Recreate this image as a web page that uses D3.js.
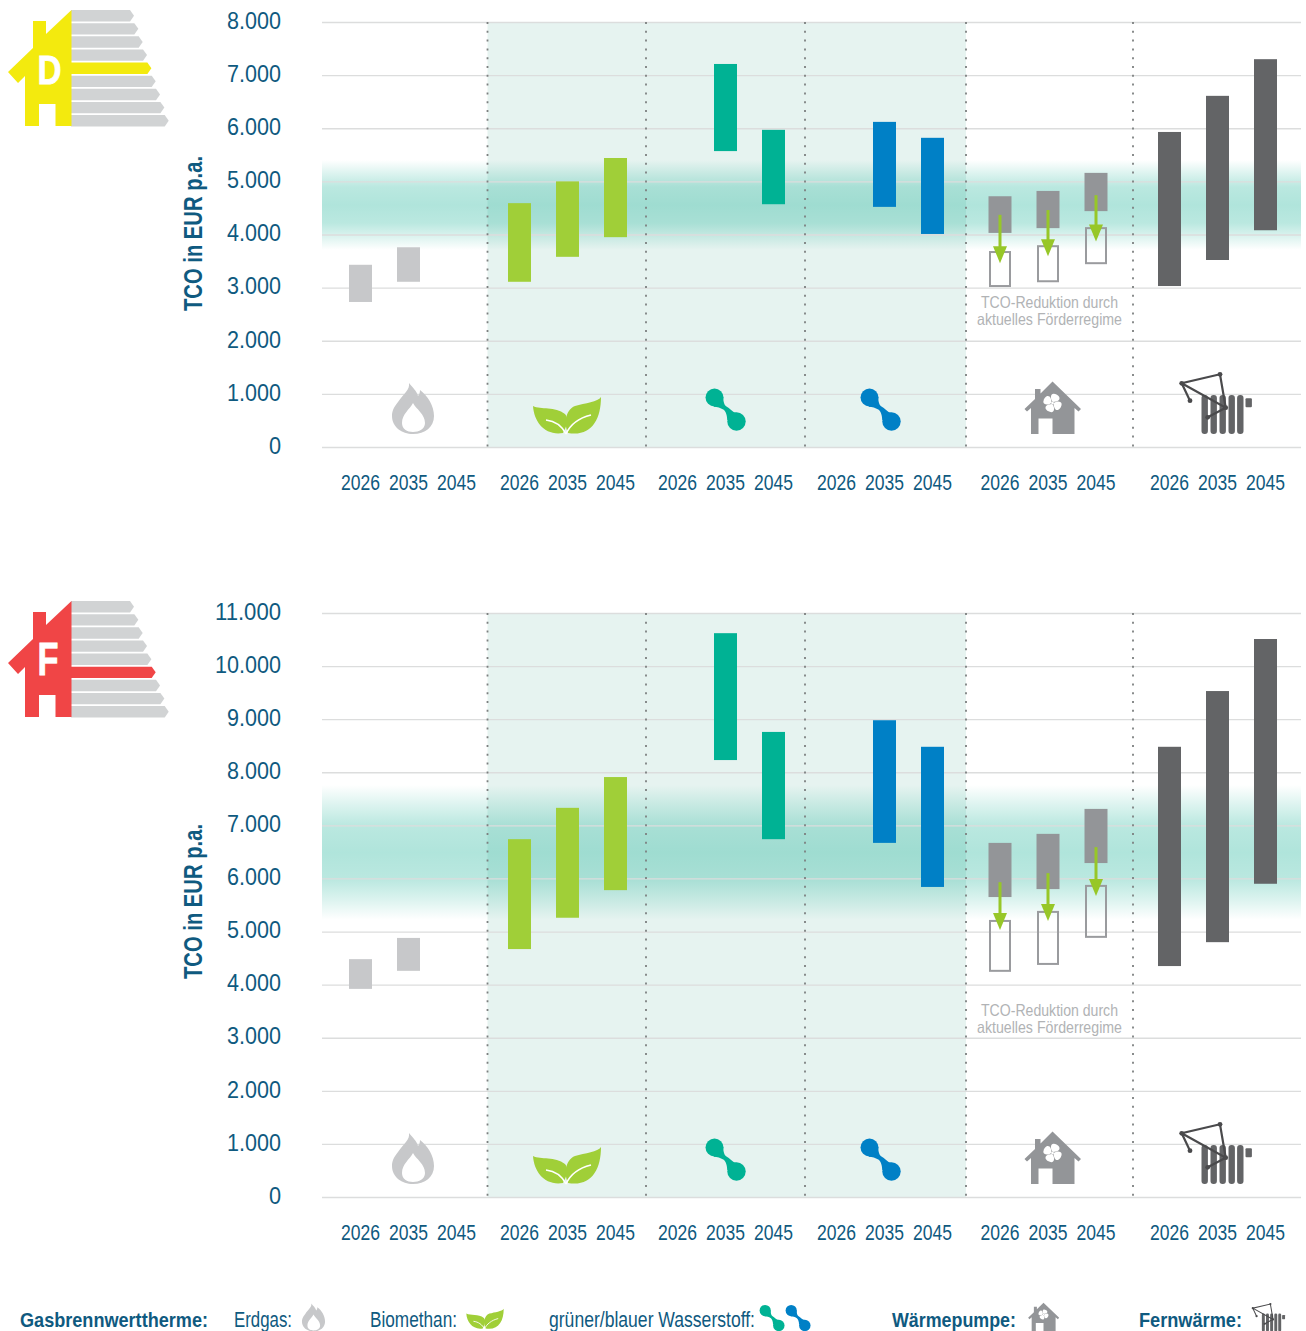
<!DOCTYPE html>
<html>
<head>
<meta charset="utf-8">
<script type="text/javascript" src="https://d3js.org/d3.v7.min.js"></script>
<title>TCO je Heizungstechnologie</title>
<style>
html, body { margin:0; padding:0; background:#fff; }
svg { display:block; }
text { font-family:"Liberation Sans Narrow","Liberation Sans",sans-serif; }
</style>
</head>
<body>
<div id="chart"></div>
<script type="text/javascript">
// ---- data (EUR p.a., [low, high])
var years = ["2026", "2035", "2045"];
var groups = ["erdgas", "biomethan", "gruen", "blau", "waermepumpe", "fernwaerme"];

var d_erdgas     = [[2730, 3430], [3110, 3760], null];
var d_biomethan  = [[3110, 4590], [3580, 5000], [3950, 5440]];
var d_gruen      = [null, [5570, 7210], [4570, 5970]];
var d_blau       = [null, [4520, 6120], [4010, 5820]];
var d_wp         = [[4030, 4720], [4120, 4820], [4440, 5160]];
var d_fern       = [[3030, 5930], [3520, 6610], [4080, 7300]];
var d_wpFoerder  = [[3030, 3670], [3120, 3780], [3460, 4120]];
var d_arrowFrom  = [4370, 4460, 4740];
var d_arrowTo    = [3460, 3590, 3870];
var d_band       = [3710, 5400];
var d_ticks      = [0, 1000, 2000, 3000, 4000, 5000, 6000, 7000, 8000];

var f_erdgas     = [[3920, 4480], [4260, 4880], null];
var f_biomethan  = [[4670, 6740], [5260, 7330], [5780, 7910]];
var f_gruen      = [null, [8230, 10620], [6740, 8760]];
var f_blau       = [null, [6670, 8980], [5840, 8480]];
var f_wp         = [[5650, 6670], [5800, 6840], [6290, 7310]];
var f_fern       = [[4350, 8480], [4800, 9530], [5900, 10510]];
var f_wpFoerder  = [[4260, 5200], [4390, 5370], [4900, 5860]];
var f_arrowFrom  = [5930, 6100, 6590];
var f_arrowTo    = [5030, 5200, 5670];
var f_band       = [5220, 7760];
var f_ticks      = [0, 1000, 2000, 3000, 4000, 5000, 6000, 7000, 8000, 9000, 10000, 11000];

var axisTitle = "TCO in EUR p.a.";
var note = ["TCO-Reduktion durch", "aktuelles Förderregime"];

// ---- layout
var W = 1306, H = 1331;
var left = 322, right = 1301;
var groupCenters = [408.5, 567.5, 725.5, 884.5, 1048, 1217.5];
var dividers = [487.5, 646, 805, 966, 1133];
var barW = 23;

var colors = {
  erdgas: "#c7c8ca", biomethan: "#a0cf38", gruen: "#00b294", blau: "#0080c6",
  waermepumpe: "#939598", fernwaerme: "#636466"
};
var ink = "#0f5a80";

var svg = d3.select("#chart").append("svg").attr("width", W).attr("height", H);
var defs = svg.append("defs");

var gx = d3.scaleOrdinal(groups, groupCenters);
var yearOff = d3.scalePoint(years, [-48, 48]);
var fmt = function(v) { return d3.format(",")(v).replace(/,/g, "."); };

// squeeze a text to a measured width from the reference
function fit(sel, w) {
  sel.attr("textLength", w).attr("lengthAdjust", "spacingAndGlyphs");
  return sel;
}

// ---- icons, each drawn around its own origin
function flame(g, c) {
  g.append("path").attr("fill", c || colors.erdgas)
   .attr("d", "M-4,-51 C-3,-44 -9,-41 -15,-32 C-20,-26 -21,-22 -21,-18 C-21,-7 -11,0 0,0 C12,0 21,-7 21,-18 C21,-28 15,-38 7,-44 C7,-41 6,-39 5,-38 C4,-43 -1,-47 -4,-51Z");
  g.append("path").attr("fill", "#fff")
   .attr("d", "M0,-31 C-3,-25 -11,-20 -11,-11 C-11,-5 -6,-2 0,-2 C6,-2 12,-5 12,-11 C12,-20 3,-25 0,-31Z");
}
function leaf(g) {
  g.append("path").attr("fill", colors.biomethan)
   .attr("d", "M-34,-28 C-26,-24 -12,-28 -2,-20 C2,-16 0,-8 -4,-1 C-22,2 -33,-12 -34,-28Z");
  g.append("path").attr("fill", colors.biomethan)
   .attr("d", "M34,-37 C31,-32 18,-31 8,-28 C-2,-24 -3,-10 1,-1 C24,3 34,-14 34,-37Z");
  g.append("path").attr("fill", "none").attr("stroke", "#fff").attr("stroke-width", 1.6)
   .attr("d", "M-21,-14 C-12,-13 -5,-8 -1,0 M24,-19 C12,-16 3,-9 -1,0");
}
function hydrogen(g, c) {
  g.append("path").attr("fill", c)
   .attr("d", "M-2.3,-12.7 C-2.2,-7 -1,-4 1,-3 C4,-1.5 7,3 11,3.3 L1.7,10.7 C1.8,6 0,1 -2.3,0 C-5,-1.5 -8,-2.7 -12,-2.7Z");
  g.append("circle").attr("cx", -11).attr("cy", -12).attr("r", 9).attr("fill", c);
  g.append("circle").attr("cx", 11).attr("cy", 12).attr("r", 9.2).attr("fill", c);
}
function heatPump(g) {
  g.append("path").attr("fill", colors.waermepumpe)
   .attr("d", "M0,-52.5 L28.5,-25 L26,-22.5 L22,-26 L22,0 L0,0 L0,-15.5 L-14,-15.5 L-14,0 L-21.5,0 L-21.5,-26 L-25.5,-22.5 L-28,-25 L-17.5,-35 L-17.5,-45 L-12,-45 L-12,-40.5Z");
  var fan = g.append("g").attr("transform", "translate(0,-31)");
  [20, 110, 200, 290].forEach(function(a) {
    fan.append("path").attr("fill", "#fff").attr("transform", "rotate(" + a + ")")
       .attr("d", "M0,-1 C-4,-3 -5,-8 -2,-9 C2,-10 6,-8 5,-5 C4,-3 2,-2 0,-1Z");
  });
  fan.append("circle").attr("r", 1.3).attr("fill", "#fff");
}
function district(g) {
  [0, 9, 18, 27, 35.6].forEach(function(x) {
    g.append("rect").attr("x", x - 15.5).attr("y", -39).attr("width", 6.4).attr("height", 39)
     .attr("rx", 3).attr("fill", colors.fernwaerme);
  });
  g.append("rect").attr("x", 28.5).attr("y", -35.7).attr("width", 6.4).attr("height", 9)
   .attr("rx", 1).attr("fill", colors.fernwaerme);
  var p = [[-27, -33.3], [-35.3, -50.7], [3, -59.7], [8.7, -26.3], [-9.3, -16.7]];
  g.append("path").attr("fill", "none").attr("stroke", "#4a4a4c").attr("stroke-width", 2.2)
   .attr("d", d3.line()(p.slice(0, 4)) + "L" + p[1] + "M" + p[3] + "L" + p[4]);
  p.forEach(function(q) {
    g.append("circle").attr("cx", q[0]).attr("cy", q[1]).attr("r", 2.4).attr("fill", "#4a4a4c");
  });
}

// energy class house with the row arrows
function energyLabel(dy, letter, active, c, fs, lw) {
  var g = svg.append("g").attr("transform", "translate(0," + dy + ")");
  var rows = d3.range(9);
  var rowY = d3.scaleLinear([0, 8], [10, 115]);
  var rowEnd = d3.scaleLinear([0, 8], [134, 168.7]);
  rows.forEach(function(i) {
    var y0 = rowY(i), x1 = rowEnd(i), h = 11.4;
    g.append("path").attr("fill", i === active ? c : "#d1d3d4")
     .attr("d", "M71," + y0 + "L" + (x1 - 4) + "," + y0 + "L" + x1 + "," + (y0 + h / 2) + "L" + (x1 - 4) + "," + (y0 + h) + "L71," + (y0 + h) + "Z");
  });
  g.append("path").attr("fill", c)
   .attr("d", "M71.5,10 L46,34 L46,21 L33,21 L33,48 L8,72 L18,83 L25,76 L25,126 L39,126 L39,104 L55.5,104 L55.5,126 L71.5,126Z");
  fit(g.append("text").attr("x", 37.5).attr("y", 84)
     .attr("font-size", fs).attr("font-weight", 700).attr("fill", "#fff")
     .attr("stroke", "#fff").attr("stroke-width", 0.8).text(letter), lw);
}

// ---- one panel
function panel(o) {
  var y = d3.scaleLinear([0, o.max], [o.y0, o.y1]);
  var g = svg.append("g");

  // shaded span for the gas based options
  g.append("rect").attr("x", dividers[0]).attr("y", y(o.max))
   .attr("width", dividers[3] - dividers[0]).attr("height", y(0) - y(o.max)).attr("fill", "#e6f3f0");

  // corridor band
  var gid = "band" + o.id;
  var lg = defs.append("linearGradient").attr("id", gid).attr("x1", 0).attr("x2", 0).attr("y1", 0).attr("y2", 1);
  [[0, 0], [0.14, 0.13], [0.3, 0.27], [0.5, 0.31], [0.7, 0.27], [0.86, 0.13], [1, 0]].forEach(function(s) {
    lg.append("stop").attr("offset", s[0]).attr("stop-color", "#00aa8c").attr("stop-opacity", s[1]);
  });
  g.append("rect").attr("x", left).attr("width", right - left)
   .attr("y", y(o.band[1])).attr("height", y(o.band[0]) - y(o.band[1])).attr("fill", "url(#" + gid + ")");

  // y axis + grid
  var axis = g.append("g").attr("transform", "translate(" + left + ",0)")
    .call(d3.axisLeft(y).tickValues(o.ticks).tickFormat(fmt)
            .tickSizeInner(-(right - left)).tickSizeOuter(0).tickPadding(41));
  axis.select(".domain").remove();
  axis.selectAll("line").attr("stroke", "#dcdddd").attr("stroke-width", 1.3);
  axis.selectAll("text").attr("fill", ink).attr("font-size", 24).attr("font-family", null)
      .attr("dy", "0.26em")
      .each(function(v) {
        var s = fmt(v);
        fit(d3.select(this), (s.length > 1 ? (s.length - 1) * 12.1 + 5.5 : 12.1));
      });

  fit(g.append("text").attr("transform", "translate(202," + o.titleY + ") rotate(-90)")
      .attr("font-size", 26).attr("font-weight", 700).attr("fill", ink).text(axisTitle), 155);

  // dotted dividers
  g.selectAll(".div").data(dividers).enter().append("line")
   .attr("x1", function(d) { return d; }).attr("x2", function(d) { return d; })
   .attr("y1", y(o.max)).attr("y2", y(0))
   .attr("stroke", "#7d8080").attr("stroke-width", 1.8).attr("stroke-dasharray", "2 6.8");

  // bars
  var series = [["erdgas", o.erdgas], ["biomethan", o.biomethan], ["gruen", o.gruen],
                ["blau", o.blau], ["waermepumpe", o.wp], ["fernwaerme", o.fern]];
  series.forEach(function(s) {
    g.selectAll(".b" + s[0]).data(s[1].map(function(r, i) { return r ? { r: r, yr: years[i] } : null; }).filter(Boolean))
     .enter().append("rect")
     .attr("x", function(d) { return gx(s[0]) + yearOff(d.yr) - barW / 2; })
     .attr("width", barW)
     .attr("y", function(d) { return y(d.r[1]); })
     .attr("height", function(d) { return y(d.r[0]) - y(d.r[1]); })
     .attr("fill", colors[s[0]]);
  });

  // outlined bars: heat pump after subsidies
  g.selectAll(".outl").data(o.foerder).enter().append("rect")
   .attr("x", function(d, i) { return gx("waermepumpe") + yearOff(years[i]) - 10; })
   .attr("width", 20)
   .attr("y", function(d) { return y(d[1]); })
   .attr("height", function(d) { return y(d[0]) - y(d[1]); })
   .attr("fill", "none").attr("stroke", "#9a9b9e").attr("stroke-width", 2);

  // arrows
  years.forEach(function(yr, i) {
    var x = gx("waermepumpe") + yearOff(yr), a = y(o.from[i]), b = y(o.to[i]);
    g.append("line").attr("x1", x).attr("x2", x).attr("y1", a).attr("y2", b - 8)
     .attr("stroke", "#97c728").attr("stroke-width", 3);
    g.append("path").attr("fill", "#97c728")
     .attr("d", "M" + (x - 7) + "," + (b - 17) + "L" + (x + 7) + "," + (b - 17) + "L" + x + "," + b + "Z");
  });

  // note below the subsidy bars
  var nw = [137, 145];
  note.forEach(function(t, i) {
    fit(g.append("text").attr("x", 1049.5).attr("y", o.noteY + i * 17).attr("text-anchor", "middle")
       .attr("font-size", 16.5).attr("fill", "#b1b3b5").text(t), nw[i]);
  });

  // technology icons
  var base = y(0);
  function at(x, yy, s) { return g.append("g").attr("transform", "translate(" + x + "," + yy + ")" + (s ? " scale(" + s + ")" : "")); }
  flame(at(413, o.iconY));
  leaf(at(567, o.iconY));
  hydrogen(at(725.5, o.iconY - 24.5), colors.gruen);
  hydrogen(at(880.5, o.iconY - 24.5), colors.blau);
  heatPump(at(1052.5, o.iconY));
  district(at(1217, o.iconY));

  // year labels
  groups.forEach(function(gr) {
    years.forEach(function(yr) {
      fit(g.append("text").attr("x", gx(gr) + yearOff(yr)).attr("y", base + 43)
         .attr("text-anchor", "middle").attr("font-size", 21.5).attr("fill", ink).text(yr), 39);
    });
  });
}

energyLabel(0, "D", 4, "#f3ea0e", 40, 24);
energyLabel(591, "F", 5, "#f04546", 46, 21);

panel({ id: "D", max: 8000, y0: 447, y1: 22, ticks: d_ticks, erdgas: d_erdgas, biomethan: d_biomethan,
        gruen: d_gruen, blau: d_blau, wp: d_wp, fern: d_fern, foerder: d_wpFoerder,
        from: d_arrowFrom, to: d_arrowTo, band: d_band, titleY: 311, noteY: 308, iconY: 434 });
panel({ id: "F", max: 11000, y0: 1197, y1: 613, ticks: f_ticks, erdgas: f_erdgas, biomethan: f_biomethan,
        gruen: f_gruen, blau: f_blau, wp: f_wp, fern: f_fern, foerder: f_wpFoerder,
        from: f_arrowFrom, to: f_arrowTo, band: f_band, titleY: 979, noteY: 1016, iconY: 1184 });

// ---- legend
var legendText = [
  ["Gasbrennwerttherme:", 20, 188, true],
  ["Erdgas:", 234, 58, false],
  ["Biomethan:", 370, 87, false],
  ["grüner/blauer Wasserstoff:", 549, 206, false],
  ["Wärmepumpe:", 892, 124, true],
  ["Fernwärme:", 1139, 103, true]
];
legendText.forEach(function(t) {
  fit(svg.append("text").attr("x", t[1]).attr("y", 1327).attr("font-size", t[3] ? 21 : 22)
     .attr("font-weight", t[3] ? 700 : 400).attr("fill", ink).text(t[0]), t[2]);
});
function lg(x, y, s) { return svg.append("g").attr("transform", "translate(" + x + "," + y + ") scale(" + s + ")"); }
flame(lg(313.5, 1331.5, 0.55));
leaf(lg(485, 1329, 0.55));
hydrogen(lg(772, 1318, 0.62), colors.gruen);
hydrogen(lg(798, 1318, 0.62), colors.blau);
heatPump(lg(1043.5, 1331.5, 0.55));
district(lg(1269, 1331.5, 0.46));
</script>
</body></html>
